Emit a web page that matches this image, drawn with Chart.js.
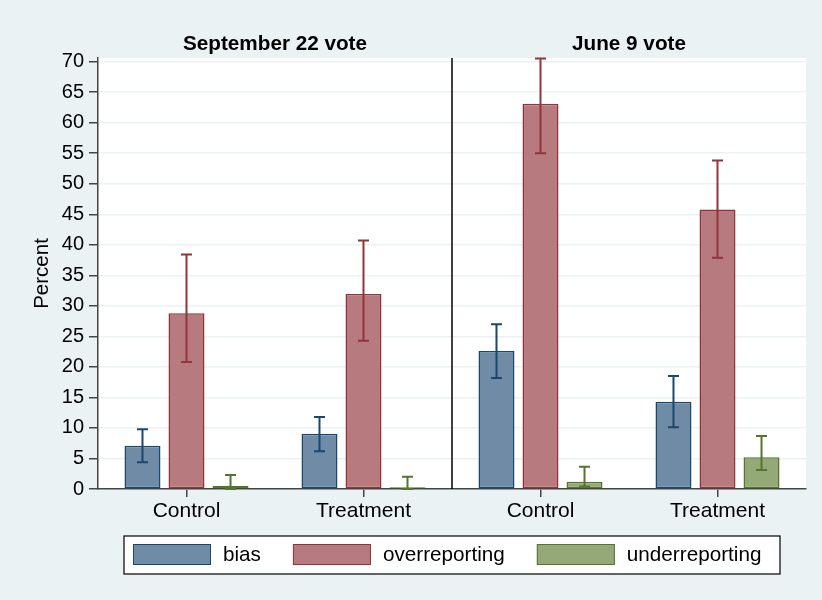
<!DOCTYPE html>
<html>
<head>
<meta charset="utf-8">
<script src="https://cdn.jsdelivr.net/npm/chart.js@4.4.1/dist/chart.umd.min.js"></script>
<style>
  html, body { margin: 0; padding: 0; background: #EAF2F3; }
  canvas { display: block; }
</style>
</head>
<body>
<canvas id="voteChart" width="822" height="600"></canvas>
<script>
const categories = ["Control", "Treatment", "Control", "Treatment"];
const panels = ["September 22 vote", "June 9 vote"];
const seriesNames = ["bias", "overreporting", "underreporting"];

const bias = [7.1, 9.05, 22.6, 14.3];
const biasLow = [4.4, 6.2, 18.2, 10.1];
const biasHigh = [9.8, 11.8, 27.0, 18.5];

const over = [28.8, 31.95, 63.1, 45.8];
const overLow = [20.8, 24.3, 55.0, 37.9];
const overHigh = [38.4, 40.7, 70.5, 53.8];

const under = [0.55, 0.27, 1.2, 5.2];
const underLow = [0, 0, 0.4, 3.1];
const underHigh = [2.3, 2.0, 3.65, 8.7];

const yTicks = [0, 5, 10, 15, 20, 25, 30, 35, 40, 45, 50, 55, 60, 65, 70];

const FONT = "'Liberation Sans', Arial, Helvetica, sans-serif";
const fills = ['rgb(111,139,166)', 'rgb(183,123,127)', 'rgb(149,168,120)'];
const strokes = ['rgb(26,71,111)', 'rgb(144,53,59)', 'rgb(85,117,47)'];
const gridColor = '#EAF2F3';
const axisColor = '#444';

const voteData = {
  labels: categories,
  datasets: [bias, over, under].map((vals, i) => ({
    label: seriesNames[i],
    data: vals,
    backgroundColor: fills[i],
    borderColor: strokes[i],
    borderWidth: 1.5,
    borderSkipped: false,
    categoryPercentage: 0.746,
    barPercentage: 0.818
  }))
};
const lows = [biasLow, overLow, underLow];
const highs = [biasHigh, overHigh, underHigh];

// white plot region
const plotBg = {
  id: 'plotBg',
  beforeDraw(chart) {
    const {ctx, chartArea: a} = chart;
    ctx.save();
    ctx.fillStyle = '#fff';
    ctx.fillRect(a.left, a.top, a.right - a.left, a.bottom - a.top);
    ctx.restore();
  }
};

// confidence interval caps
const errorBars = {
  id: 'errorBars',
  afterDatasetsDraw(chart) {
    const ctx = chart.ctx;
    const y = chart.scales.y;
    ctx.save();
    chart.data.datasets.forEach((ds, i) => {
      const meta = chart.getDatasetMeta(i);
      meta.data.forEach((bar, j) => {
        const top = y.getPixelForValue(highs[i][j]);
        const bot = y.getPixelForValue(lows[i][j]);
        ctx.strokeStyle = strokes[i];
        ctx.lineWidth = 2;
        ctx.beginPath();
        ctx.moveTo(bar.x, top); ctx.lineTo(bar.x, bot);
        ctx.moveTo(bar.x - 5.5, top); ctx.lineTo(bar.x + 5.5, top);
        ctx.moveTo(bar.x - 5.5, bot); ctx.lineTo(bar.x + 5.5, bot);
        ctx.stroke();
      });
    });
    ctx.restore();
  }
};

// panel divider, panel titles, legend
const panelsAndLegend = {
  id: 'panelsAndLegend',
  afterDraw(chart) {
    const {ctx, chartArea: a} = chart;
    const x = chart.scales.x;
    const mid = (x.getPixelForValue(1) + x.getPixelForValue(2)) / 2;
    ctx.save();
    ctx.strokeStyle = '#000';
    ctx.lineWidth = 1.5;
    ctx.beginPath();
    ctx.moveTo(mid, a.top); ctx.lineTo(mid, a.bottom);
    ctx.stroke();

    ctx.fillStyle = '#000';
    ctx.font = 'bold 20.7px ' + FONT;
    ctx.textAlign = 'center';
    ctx.textBaseline = 'alphabetic';
    ctx.fillText(panels[0], (a.left + mid) / 2, 50);
    ctx.fillText(panels[1], (mid + a.right) / 2, 50);

    // legend
    const bx = a.left + 26, by = 536, bw = a.right - a.left - 52, bh = 38;
    ctx.fillStyle = '#fff';
    ctx.fillRect(bx, by, bw, bh);
    ctx.strokeStyle = '#000';
    ctx.lineWidth = 1.2;
    ctx.strokeRect(bx, by, bw, bh);
    ctx.font = '20.7px ' + FONT;
    ctx.textAlign = 'left';
    ctx.textBaseline = 'middle';
    let cx = bx + 9;
    chart.data.datasets.forEach((ds, i) => {
      ctx.fillStyle = fills[i];
      ctx.fillRect(cx, by + 8, 78, 21);
      ctx.strokeStyle = strokes[i];
      ctx.lineWidth = 1;
      ctx.strokeRect(cx + 0.5, by + 8.5, 77, 20);
      ctx.fillStyle = '#000';
      ctx.fillText(ds.label, cx + 90, by + 19.5);
      cx += 90 + ctx.measureText(ds.label).width + 32;
    });
    ctx.restore();
  }
};

const voteChart = new Chart(document.getElementById('voteChart'), {
  type: 'bar',
  data: voteData,
  plugins: [plotBg, errorBars, panelsAndLegend],
  options: {
    responsive: false,
    animation: false,
    layout: { padding: { top: 58, left: 0, right: 16, bottom: 0 } },
    scales: {
      x: {
        afterFit: (s) => { s.height = 111; },
        grid: {
          offset: false,
          drawOnChartArea: false,
          color: axisColor,
          tickColor: axisColor,
          tickLength: 8,
          lineWidth: 1.5
        },
        border: { color: axisColor, width: 1.5 },
        ticks: { color: '#000', font: { family: FONT, size: 21 }, padding: 2 }
      },
      y: {
        min: 0,
        max: 70.6,
        afterFit: (s) => { s.width = 98; },
        afterBuildTicks: (s) => { s.ticks = yTicks.map(v => ({ value: v })); },
        grid: {
          color: gridColor,
          lineWidth: 1.5,
          tickColor: axisColor,
          tickLength: 9
        },
        border: { color: axisColor, width: 1.5 },
        ticks: { color: '#000', font: { family: FONT, size: 20 }, padding: 5 },
        title: {
          display: true,
          text: 'Percent',
          color: '#000',
          font: { family: FONT, size: 20.5 },
          padding: { top: 30, bottom: 0 }
        }
      }
    },
    plugins: {
      legend: { display: false },
      tooltip: { enabled: false }
    }
  }
});
</script>
</body>
</html>
